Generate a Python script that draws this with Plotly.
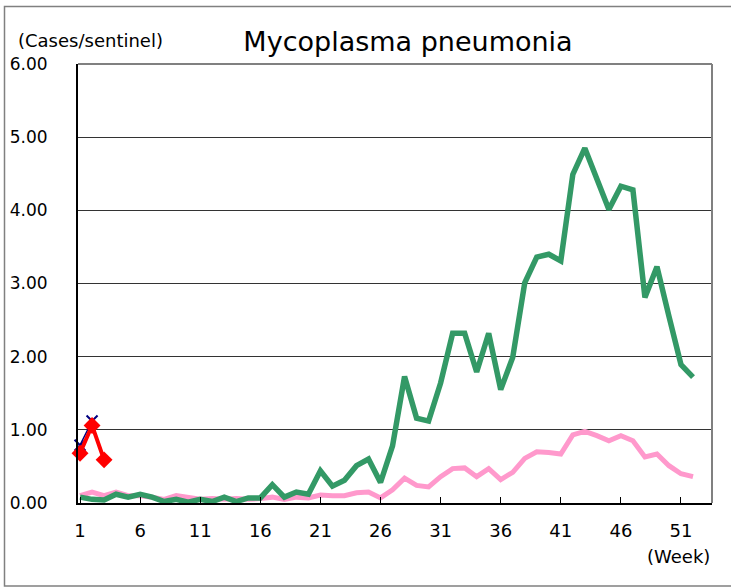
import plotly.graph_objects as go

weeks = list(range(1, 53))

# Previous season (green)
green_vals = [0.08, 0.05, 0.04, 0.12, 0.08, 0.12, 0.08, 0.02, 0.05, 0.01,
              0.05, 0.02, 0.08, 0.02, 0.07, 0.07, 0.25, 0.08, 0.15, 0.12,
              0.44, 0.23, 0.31, 0.51, 0.60, 0.28, 0.78, 1.73, 1.16, 1.12,
              1.64, 2.32, 2.32, 1.79, 2.32, 1.55, 1.99, 3.01, 3.36, 3.40,
              3.31, 4.49, 4.85, 4.42, 4.01, 4.33, 4.28, 2.81, 3.23, 2.55,
              1.89, 1.72]

# Average (pink)
pink_vals = [0.10, 0.15, 0.10, 0.15, 0.10, 0.10, 0.08, 0.05, 0.10, 0.07,
             0.05, 0.06, 0.05, 0.06, 0.05, 0.06, 0.08, 0.05, 0.08, 0.07,
             0.11, 0.10, 0.10, 0.14, 0.15, 0.07, 0.18, 0.34, 0.24, 0.22,
             0.36, 0.47, 0.48, 0.36, 0.47, 0.32, 0.42, 0.61, 0.70, 0.69,
             0.67, 0.93, 0.98, 0.92, 0.85, 0.92, 0.85, 0.63, 0.67, 0.51,
             0.40, 0.36]

# Navy X series
navy_weeks = [1, 2]
navy_vals = [0.79, 1.12]

# Current season (red)
red_weeks = [1, 2, 3]
red_vals = [0.68, 1.06, 0.59]

x_tick_vals = [1, 6, 11, 16, 21, 26, 31, 36, 41, 46, 51]
x_tick_text = [str(v) for v in x_tick_vals]
y_tick_vals = [0, 1, 2, 3, 4, 5, 6]
y_tick_text = ["0.00", "1.00", "2.00", "3.00", "4.00", "5.00", "6.00"]

FONT = "DejaVu Sans"

fig = go.Figure()
fig.add_trace(go.Scatter(x=weeks, y=pink_vals, mode="lines",
                         line=dict(color="#FF99CC", width=5), hoverinfo="skip"))
fig.add_trace(go.Scatter(x=weeks, y=green_vals, mode="lines",
                         line=dict(color="#339966", width=5.5), hoverinfo="skip"))
fig.add_trace(go.Scatter(x=navy_weeks, y=navy_vals, mode="lines+markers",
                         line=dict(color="#000080", width=1.5),
                         marker=dict(symbol="x-thin", size=11,
                                     line=dict(color="#000080", width=2)),
                         cliponaxis=False, hoverinfo="skip"))
fig.add_trace(go.Scatter(x=red_weeks, y=red_vals, mode="lines+markers",
                         line=dict(color="#FF0000", width=4),
                         marker=dict(symbol="diamond", size=13, color="#FF0000"),
                         cliponaxis=False, hoverinfo="skip"))

L, R, T, B = 78, 712, 64, 503
W, H = 731, 587
pw, ph = R - L, B - T

def px(xp):
    return (xp - L) / pw

def py(yp):
    return (B - yp) / ph

fig.update_layout(
    width=W, height=H,
    margin=dict(l=L, r=W - R, t=T, b=H - B, autoexpand=False),
    paper_bgcolor="white", plot_bgcolor="white",
    showlegend=False,
    font=dict(family=FONT, size=18, color="black"),
    title=dict(text="Mycoplasma pneumonia", x=408 / W, y=1 - 42 / H,
               xanchor="center", yanchor="middle",
               font=dict(family=FONT, size=27, color="black")),
    xaxis=dict(range=[0.83, 53.58], tickmode="array", tickvals=x_tick_vals,
               ticktext=x_tick_text, ticks="inside", ticklen=6, tickwidth=1,
               tickcolor="black", showgrid=False, zeroline=False,
               showline=True, linecolor="black", linewidth=2,
               ticklabelstandoff=10, automargin=False,
               tickfont=dict(family=FONT, size=18, color="black")),
    yaxis=dict(range=[0, 6], tickmode="array", tickvals=y_tick_vals,
               ticktext=y_tick_text, ticks="", showgrid=True,
               gridcolor="#333333", gridwidth=1, zeroline=False,
               showline=True, linecolor="black", linewidth=2,
               ticklabelstandoff=25, automargin=False,
               tickfont=dict(family=FONT, size=17, color="black")),
    annotations=[
        dict(text="(Cases/sentinel)", xref="paper", yref="paper",
             x=px(16), y=py(40), xanchor="left", yanchor="middle",
             showarrow=False, font=dict(family=FONT, size=18, color="black")),
        dict(text="(Week)", xref="paper", yref="paper",
             x=px(712), y=py(556), xanchor="right", yanchor="middle",
             showarrow=False, font=dict(family=FONT, size=18, color="black")),
    ],
    shapes=[
        dict(type="line", xref="paper", yref="paper", x0=0, x1=1, y0=1, y1=1,
             line=dict(color="#808080", width=2)),
        dict(type="line", xref="paper", yref="paper", x0=1, x1=1, y0=0, y1=1,
             line=dict(color="#808080", width=2)),
        dict(type="rect", xref="paper", yref="paper",
             x0=px(4.5), x1=px(745), y0=py(586), y1=py(6.5),
             line=dict(color="#808080", width=1.5), layer="below"),
    ],
)

fig.write_html("out.html",
               config={"displayModeBar": False},
               post_script="document.body.style.margin='0';document.body.style.overflow='hidden';")
